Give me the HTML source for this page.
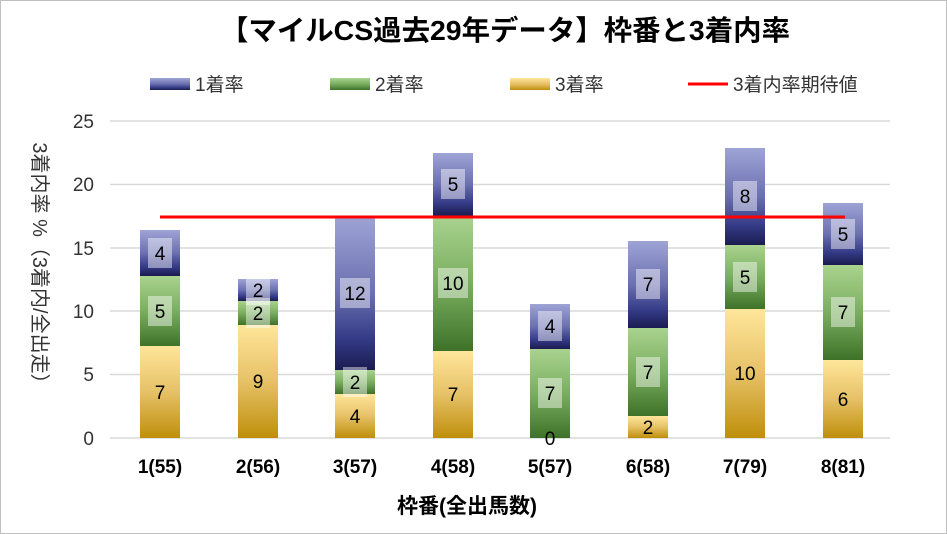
<!DOCTYPE html><html><head><meta charset="utf-8"><style>body{margin:0}svg{display:block}</style></head><body>
<svg width="947" height="534" xmlns="http://www.w3.org/2000/svg" font-family="Liberation Sans, Noto Sans CJK JP, sans-serif">
<defs>
<linearGradient id="g1" x1="0" y1="0" x2="0" y2="1"><stop offset="0" stop-color="#9fa4d6"/><stop offset="0.5" stop-color="#6b70b0"/><stop offset="0.8" stop-color="#343a86"/><stop offset="1" stop-color="#1a1c50"/></linearGradient>
<linearGradient id="g2" x1="0" y1="0" x2="0" y2="1"><stop offset="0" stop-color="#a9d38f"/><stop offset="0.5" stop-color="#7aae5f"/><stop offset="1" stop-color="#3e7229"/></linearGradient>
<linearGradient id="g3" x1="0" y1="0" x2="0" y2="1"><stop offset="0" stop-color="#ffe69a"/><stop offset="0.5" stop-color="#e6c167"/><stop offset="1" stop-color="#bf8f0a"/></linearGradient>
</defs>
<rect x="0.5" y="0.5" width="946" height="533" fill="#fff" stroke="#bfbfbf"/>
<text x="220" y="40" textLength="570" lengthAdjust="spacingAndGlyphs" font-size="28" font-weight="bold">【マイルCS過去29年データ】枠番と3着内率</text>
<g font-size="19" fill="#333">
<rect x="150" y="78" width="40" height="12" fill="url(#g1)"/><text x="195" y="91">1着率</text>
<rect x="330" y="78" width="40" height="12" fill="url(#g2)"/><text x="375" y="91">2着率</text>
<rect x="510" y="78" width="40" height="12" fill="url(#g3)"/><text x="555" y="91">3着率</text>
<line x1="688" y1="84" x2="728" y2="84" stroke="#f00" stroke-width="3"/><text x="733" y="91">3着内率期待値</text>
</g>
<g stroke="#d9d9d9" stroke-width="1.5">
<line x1="110" y1="121" x2="890" y2="121"/><line x1="110" y1="184.5" x2="890" y2="184.5"/><line x1="110" y1="248" x2="890" y2="248"/><line x1="110" y1="311" x2="890" y2="311"/><line x1="110" y1="374.5" x2="890" y2="374.5"/><line x1="110" y1="438" x2="890" y2="438"/>
</g>
<g font-size="19" fill="#333" text-anchor="end">
<text x="94" y="128">25</text><text x="94" y="191">20</text><text x="94" y="255">15</text><text x="94" y="318">10</text><text x="94" y="381">5</text><text x="94" y="445">0</text>
</g>
<text transform="translate(33,268) rotate(90)" text-anchor="middle" font-size="20" fill="#333">3着内率 %（3着内/全出走）</text>
<g>
<rect x="140" y="346" width="40" height="92" fill="url(#g3)"/><rect x="140" y="276" width="40" height="70" fill="url(#g2)"/><rect x="140" y="230" width="40" height="46" fill="url(#g1)"/>
<rect x="238" y="325" width="40" height="113" fill="url(#g3)"/><rect x="238" y="301" width="40" height="24" fill="url(#g2)"/><rect x="238" y="279" width="40" height="22" fill="url(#g1)"/>
<rect x="335" y="394" width="40" height="44" fill="url(#g3)"/><rect x="335" y="370" width="40" height="24" fill="url(#g2)"/><rect x="335" y="216" width="40" height="154" fill="url(#g1)"/>
<rect x="433" y="351" width="40" height="87" fill="url(#g3)"/><rect x="433" y="216" width="40" height="135" fill="url(#g2)"/><rect x="433" y="153" width="40" height="63" fill="url(#g1)"/>
<rect x="530" y="349" width="40" height="89" fill="url(#g2)"/><rect x="530" y="304" width="40" height="45" fill="url(#g1)"/>
<rect x="628" y="416" width="40" height="22" fill="url(#g3)"/><rect x="628" y="328" width="40" height="88" fill="url(#g2)"/><rect x="628" y="241" width="40" height="87" fill="url(#g1)"/>
<rect x="725" y="309" width="40" height="129" fill="url(#g3)"/><rect x="725" y="245" width="40" height="64" fill="url(#g2)"/><rect x="725" y="148" width="40" height="97" fill="url(#g1)"/>
<rect x="823" y="360" width="40" height="78" fill="url(#g3)"/><rect x="823" y="265" width="40" height="95" fill="url(#g2)"/><rect x="823" y="203" width="40" height="62" fill="url(#g1)"/>
</g>
<g fill="#fff" fill-opacity="0.45">
<rect x="148" y="296" width="24" height="30"/><rect x="148" y="238" width="24" height="30"/>
<rect x="246" y="298" width="24" height="30"/><rect x="246" y="275" width="24" height="30"/>
<rect x="343" y="367" width="24" height="30"/><rect x="340" y="278" width="30" height="30"/>
<rect x="438" y="268" width="30" height="30"/><rect x="441" y="169" width="24" height="30"/>
<rect x="538" y="378" width="24" height="30"/><rect x="538" y="311" width="24" height="30"/>
<rect x="636" y="357" width="24" height="30"/><rect x="636" y="269" width="24" height="30"/>
<rect x="733" y="262" width="24" height="30"/><rect x="733" y="181" width="24" height="30"/>
<rect x="831" y="297" width="24" height="30"/><rect x="831" y="219" width="24" height="30"/>
</g>
<g font-size="19" text-anchor="middle" fill="#000">
<text x="160" y="399">7</text><text x="160" y="318">5</text><text x="160" y="260">4</text>
<text x="258" y="388">9</text><text x="258" y="320">2</text><text x="258" y="297">2</text>
<text x="355" y="423">4</text><text x="355" y="389">2</text><text x="355" y="300">12</text>
<text x="453" y="401">7</text><text x="453" y="290">10</text><text x="453" y="191">5</text>
<text x="550" y="445">0</text><text x="550" y="400">7</text><text x="550" y="333">4</text>
<text x="648" y="434">2</text><text x="648" y="379">7</text><text x="648" y="291">7</text>
<text x="745" y="380">10</text><text x="745" y="284">5</text><text x="745" y="203">8</text>
<text x="843" y="406">6</text><text x="843" y="319">7</text><text x="843" y="241">5</text>
</g>
<line x1="160" y1="217" x2="845" y2="217" stroke="#f00" stroke-width="3"/>
<g font-size="19" font-weight="bold" text-anchor="middle">
<text x="160" y="473">1(55)</text><text x="258" y="473">2(56)</text><text x="355" y="473">3(57)</text><text x="453" y="473">4(58)</text><text x="550" y="473">5(57)</text><text x="648" y="473">6(58)</text><text x="745" y="473">7(79)</text><text x="843" y="473">8(81)</text>
<text x="467" y="513" font-size="21">枠番(全出馬数)</text>
</g>
</svg></body></html>
